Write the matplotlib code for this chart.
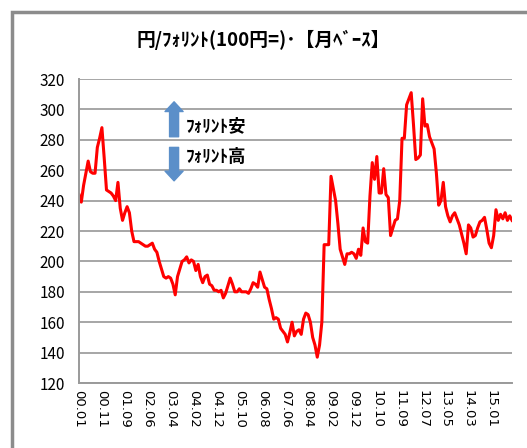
import matplotlib.pyplot as plt
from matplotlib.patches import Rectangle

plt.rcParams['font.family'] = ['Noto Sans CJK JP', 'DejaVu Sans']

# monthly HUF rate (per 100 yen), 2000.01 - 2015.10
rate = [
    244, 239, 250, 258, 266, 259, 258, 258, 275, 281,
    288, 268, 247, 246, 245, 243, 240, 252, 235, 227,
    232, 236, 232, 220, 213, 213, 213, 212, 211, 210,
    210, 211, 212, 208, 206, 200, 195, 190, 189, 190,
    189, 185, 178, 190, 195, 200, 201, 203, 199, 201,
    200, 194, 198, 190, 186, 190, 191, 185, 184, 181,
    181, 180, 181, 176, 179, 184, 189, 185, 180, 180,
    182, 180, 180, 180, 179, 182, 186, 185, 183, 193,
    188, 183, 182, 175, 169, 162, 163, 162, 156, 154,
    152, 147, 153, 160, 151, 154, 155, 152, 162, 166,
    165, 160, 150, 145, 137, 145, 160, 211, 211, 211,
    256, 248, 240, 225, 208, 203, 198, 205, 205, 206,
    205, 202, 208, 204, 222, 213, 212, 243, 265, 254,
    269, 245, 245, 261, 244, 242, 217, 222, 227, 228,
    240, 281, 281, 303, 307, 311, 290, 267, 268, 270,
    307, 289, 290, 282, 278, 274, 258, 237, 240, 252,
    236, 230, 226, 230, 232, 228, 224, 218, 212, 205,
    224, 222, 216, 217, 222, 226, 227, 229, 221, 212,
    209, 217, 234, 227, 231, 228, 232, 227, 230, 227,
]

tick_labels = ["00.01", "00.11", "01.09", "02.06", "03.04", "04.02", "04.12",
               "05.10", "06.08", "07.06", "08.04", "09.02", "09.12", "10.10",
               "11.09", "12.07", "13.05", "14.03", "15.01"]

fig = plt.figure(figsize=(5.27, 4.48), dpi=100)
fig.patches.append(Rectangle((12 / 527, -0.1), 1.2, 1 - 12 / 448 + 0.1,
                             transform=fig.transFigure, fill=False,
                             edgecolor="#8c8c8c", linewidth=2.5))
ax = fig.add_axes([79 / 527, 1 - 383 / 448, (512 - 79) / 527, (383 - 79) / 448])

ax.plot(range(len(rate)), rate, color="#ff0000", linewidth=2.2)

ax.set_xlim(0, len(rate) - 1)
ax.set_ylim(120, 320)
ax.set_yticks(range(120, 321, 20))
ax.set_xticks(range(0, 10 * len(tick_labels), 10))
ax.set_xticklabels(tick_labels, rotation=270, fontsize=9.5, family="DejaVu Sans")
ax.tick_params(axis="y", labelsize=11, length=0, pad=10)
ax.tick_params(axis="x", length=0, pad=5)
ax.grid(axis="y", color="#a6a6a6", linewidth=1.4)
ax.set_axisbelow(True)
for s in ["top", "right"]:
    ax.spines[s].set_visible(False)
for s in ["left", "bottom"]:
    ax.spines[s].set_color("#9a9a9a")
    ax.spines[s].set_linewidth(1.4)

arrow_kw = dict(arrowstyle="simple,head_width=1.3,head_length=0.7,tail_width=0.65",
                color="#5b8fc9", shrinkA=0, shrinkB=0)
ax.annotate("", xy=(41.5, 305), xytext=(41.5, 282), arrowprops=arrow_kw)
ax.annotate("", xy=(41.5, 253), xytext=(41.5, 275), arrowprops=arrow_kw)
ax.text(46.5, 289, "ﾌｫﾘﾝﾄ安", fontsize=12.5, fontweight="bold", va="center")
ax.text(46.5, 269, "ﾌｫﾘﾝﾄ高", fontsize=12.5, fontweight="bold", va="center")

fig.text(0.5, 1 - 40 / 448, "円/ﾌｫﾘﾝﾄ(100円=)･【月ﾍﾞｰｽ】", ha="center",
         va="center", fontsize=13.5, fontweight="bold")

fig.savefig("out.png", dpi=100)
